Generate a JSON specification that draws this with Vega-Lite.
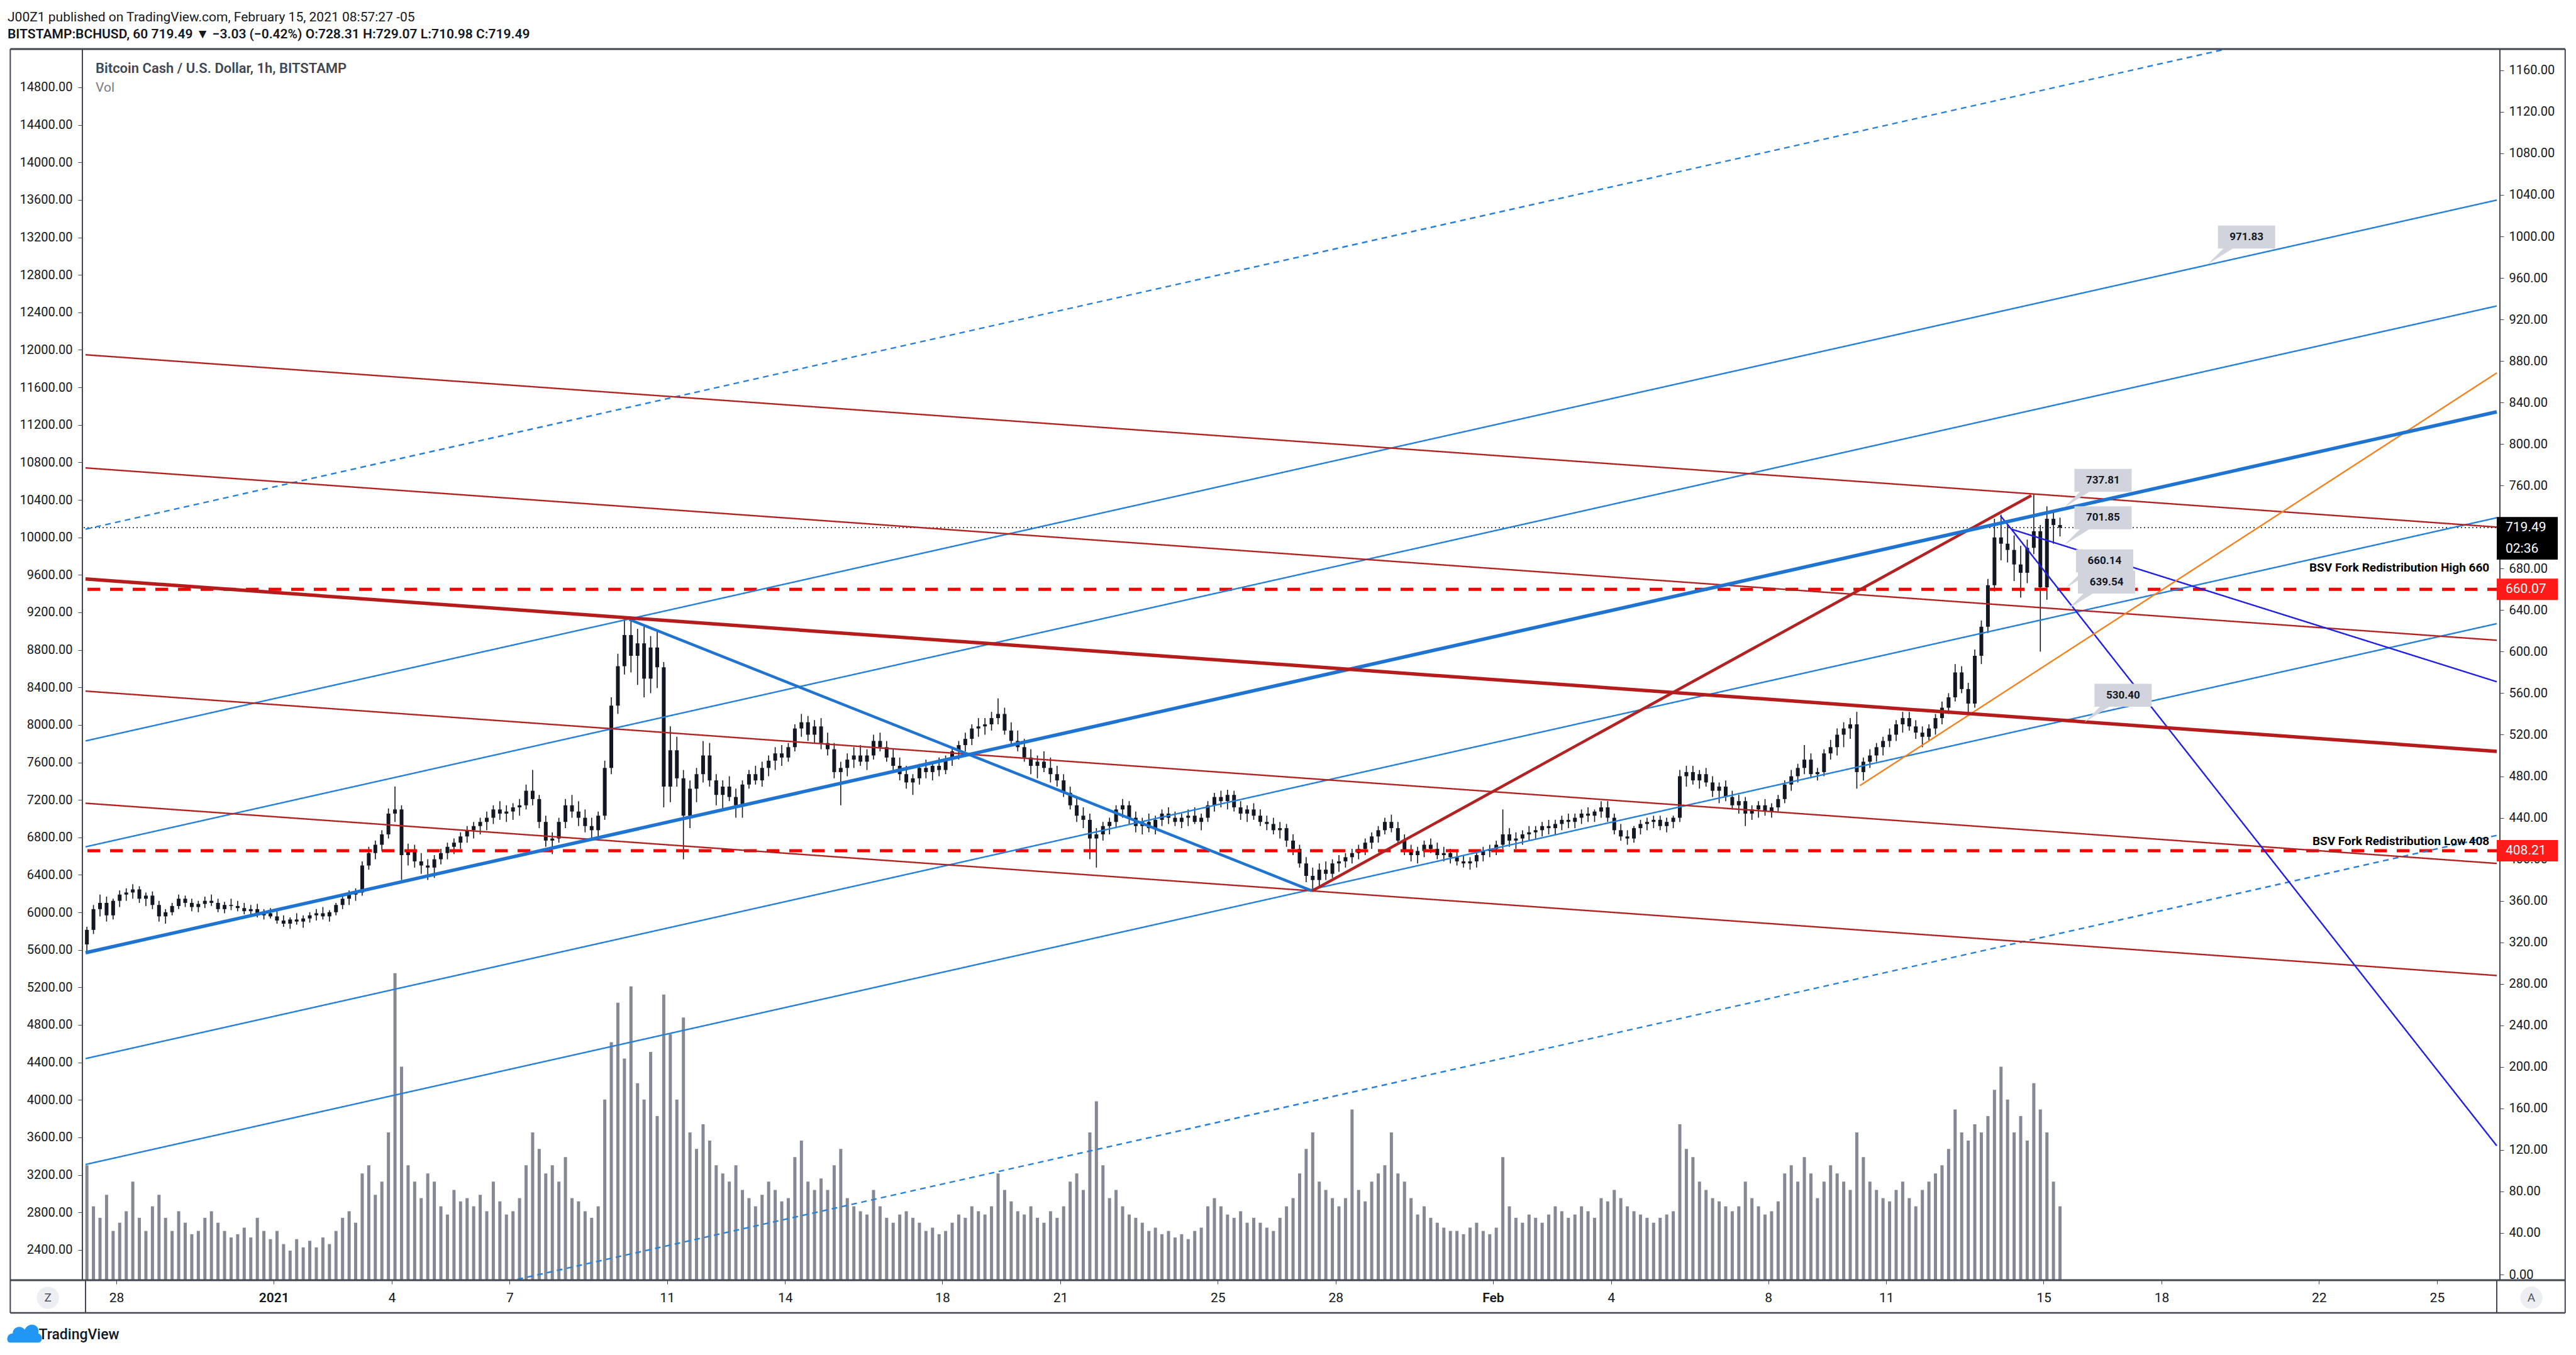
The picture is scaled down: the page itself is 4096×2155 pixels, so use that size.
{
  "$schema": "https://vega.github.io/schema/vega-lite/v6.json",
  "width": 3844,
  "height": 1958,
  "autosize": "none",
  "padding": {"left": 131, "top": 78, "right": 121, "bottom": 119},
  "background": "#ffffff",
  "title": {
    "text": "J00Z1 published on TradingView.com, February 15, 2021 08:57:27 -05",
    "subtitle": "BITSTAMP:BCHUSD, 60  719.49 ▼ −3.03 (−0.42%)  O:728.31  H:729.07  L:710.98  C:719.49",
    "anchor": "start",
    "frame": "group",
    "dx": -119,
    "offset": 12,
    "font": "Roboto",
    "fontSize": 21,
    "fontWeight": "normal",
    "color": "#131722",
    "subtitleFont": "Roboto",
    "subtitleFontSize": 21,
    "subtitleFontWeight": 600,
    "subtitleColor": "#131722",
    "subtitlePadding": 6
  },
  "datasets": {
    "leftscale": [{"lv": 2400}, {"lv": 14800}],
    "candles": [
      {"t":"2020-12-27T06:00Z","o":318,"h":335,"l":312,"c":332,"v":700},
      {"t":"2020-12-27T10:00Z","o":332,"h":356,"l":328,"c":352,"v":450},
      {"t":"2020-12-27T14:00Z","o":352,"h":366,"l":345,"c":358,"v":380},
      {"t":"2020-12-27T18:00Z","o":358,"h":364,"l":340,"c":346,"v":520},
      {"t":"2020-12-27T22:00Z","o":346,"h":362,"l":342,"c":360,"v":300},
      {"t":"2020-12-28T02:00Z","o":360,"h":370,"l":354,"c":366,"v":350},
      {"t":"2020-12-28T06:00Z","o":366,"h":372,"l":360,"c":368,"v":420},
      {"t":"2020-12-28T10:00Z","o":368,"h":376,"l":362,"c":371,"v":600},
      {"t":"2020-12-28T14:00Z","o":371,"h":374,"l":358,"c":362,"v":380},
      {"t":"2020-12-28T18:00Z","o":362,"h":368,"l":355,"c":365,"v":300},
      {"t":"2020-12-28T22:00Z","o":365,"h":369,"l":352,"c":356,"v":450},
      {"t":"2020-12-29T02:00Z","o":356,"h":360,"l":340,"c":345,"v":520},
      {"t":"2020-12-29T06:00Z","o":345,"h":352,"l":338,"c":349,"v":380},
      {"t":"2020-12-29T10:00Z","o":349,"h":358,"l":346,"c":355,"v":300},
      {"t":"2020-12-29T14:00Z","o":355,"h":366,"l":352,"c":362,"v":420},
      {"t":"2020-12-29T18:00Z","o":362,"h":365,"l":354,"c":358,"v":350},
      {"t":"2020-12-29T22:00Z","o":358,"h":362,"l":350,"c":354,"v":280},
      {"t":"2020-12-30T02:00Z","o":354,"h":360,"l":349,"c":357,"v":300},
      {"t":"2020-12-30T06:00Z","o":357,"h":364,"l":353,"c":360,"v":380},
      {"t":"2020-12-30T10:00Z","o":360,"h":366,"l":355,"c":358,"v":420},
      {"t":"2020-12-30T14:00Z","o":358,"h":362,"l":349,"c":352,"v":350},
      {"t":"2020-12-30T18:00Z","o":352,"h":359,"l":348,"c":356,"v":300},
      {"t":"2020-12-30T22:00Z","o":356,"h":362,"l":351,"c":355,"v":260},
      {"t":"2020-12-31T02:00Z","o":355,"h":360,"l":350,"c":353,"v":280},
      {"t":"2020-12-31T06:00Z","o":353,"h":358,"l":347,"c":350,"v":320},
      {"t":"2020-12-31T10:00Z","o":350,"h":356,"l":346,"c":352,"v":260},
      {"t":"2020-12-31T14:00Z","o":352,"h":357,"l":344,"c":346,"v":380},
      {"t":"2020-12-31T18:00Z","o":346,"h":352,"l":342,"c":348,"v":300},
      {"t":"2020-12-31T22:00Z","o":348,"h":353,"l":343,"c":345,"v":250},
      {"t":"2021-01-01T02:00Z","o":345,"h":350,"l":338,"c":341,"v":300},
      {"t":"2021-01-01T06:00Z","o":341,"h":346,"l":335,"c":338,"v":220},
      {"t":"2021-01-01T10:00Z","o":338,"h":344,"l":333,"c":342,"v":180},
      {"t":"2021-01-01T14:00Z","o":342,"h":348,"l":337,"c":340,"v":250},
      {"t":"2021-01-01T18:00Z","o":340,"h":346,"l":334,"c":343,"v":200},
      {"t":"2021-01-01T22:00Z","o":343,"h":349,"l":339,"c":346,"v":240},
      {"t":"2021-01-02T02:00Z","o":346,"h":352,"l":341,"c":348,"v":200},
      {"t":"2021-01-02T06:00Z","o":348,"h":354,"l":342,"c":345,"v":260},
      {"t":"2021-01-02T10:00Z","o":345,"h":351,"l":340,"c":349,"v":220},
      {"t":"2021-01-02T14:00Z","o":349,"h":358,"l":346,"c":356,"v":300},
      {"t":"2021-01-02T18:00Z","o":356,"h":366,"l":352,"c":362,"v":380},
      {"t":"2021-01-02T22:00Z","o":362,"h":370,"l":356,"c":366,"v":420},
      {"t":"2021-01-03T02:00Z","o":366,"h":372,"l":360,"c":368,"v":350},
      {"t":"2021-01-03T06:00Z","o":368,"h":398,"l":365,"c":394,"v":650},
      {"t":"2021-01-03T10:00Z","o":394,"h":412,"l":390,"c":406,"v":700},
      {"t":"2021-01-03T14:00Z","o":406,"h":418,"l":400,"c":414,"v":520},
      {"t":"2021-01-03T18:00Z","o":414,"h":428,"l":408,"c":424,"v":600},
      {"t":"2021-01-03T22:00Z","o":424,"h":449,"l":420,"c":444,"v":900},
      {"t":"2021-01-04T02:00Z","o":444,"h":470,"l":436,"c":448,"v":1870},
      {"t":"2021-01-04T06:00Z","o":448,"h":452,"l":380,"c":404,"v":1300},
      {"t":"2021-01-04T10:00Z","o":404,"h":415,"l":394,"c":408,"v":700},
      {"t":"2021-01-04T14:00Z","o":408,"h":414,"l":392,"c":398,"v":600},
      {"t":"2021-01-04T18:00Z","o":398,"h":406,"l":386,"c":394,"v":500},
      {"t":"2021-01-04T22:00Z","o":394,"h":400,"l":380,"c":392,"v":650},
      {"t":"2021-01-05T02:00Z","o":392,"h":404,"l":382,"c":400,"v":600},
      {"t":"2021-01-05T06:00Z","o":400,"h":410,"l":395,"c":406,"v":450},
      {"t":"2021-01-05T10:00Z","o":406,"h":416,"l":400,"c":412,"v":400},
      {"t":"2021-01-05T14:00Z","o":412,"h":420,"l":405,"c":416,"v":550},
      {"t":"2021-01-05T18:00Z","o":416,"h":426,"l":410,"c":422,"v":480},
      {"t":"2021-01-05T22:00Z","o":422,"h":432,"l":416,"c":428,"v":500},
      {"t":"2021-01-06T02:00Z","o":428,"h":436,"l":420,"c":432,"v":450},
      {"t":"2021-01-06T06:00Z","o":432,"h":440,"l":424,"c":436,"v":520},
      {"t":"2021-01-06T10:00Z","o":436,"h":446,"l":428,"c":440,"v":420},
      {"t":"2021-01-06T14:00Z","o":440,"h":452,"l":434,"c":448,"v":600},
      {"t":"2021-01-06T18:00Z","o":448,"h":456,"l":438,"c":444,"v":480},
      {"t":"2021-01-06T22:00Z","o":444,"h":452,"l":436,"c":446,"v":400},
      {"t":"2021-01-07T02:00Z","o":446,"h":454,"l":438,"c":450,"v":420},
      {"t":"2021-01-07T06:00Z","o":450,"h":458,"l":442,"c":452,"v":500},
      {"t":"2021-01-07T10:00Z","o":452,"h":472,"l":448,"c":466,"v":700},
      {"t":"2021-01-07T14:00Z","o":466,"h":486,"l":452,"c":458,"v":900},
      {"t":"2021-01-07T18:00Z","o":458,"h":462,"l":430,"c":436,"v":800},
      {"t":"2021-01-07T22:00Z","o":436,"h":442,"l":412,"c":418,"v":650},
      {"t":"2021-01-08T02:00Z","o":418,"h":426,"l":405,"c":420,"v":700},
      {"t":"2021-01-08T06:00Z","o":420,"h":440,"l":416,"c":436,"v":600},
      {"t":"2021-01-08T10:00Z","o":436,"h":458,"l":430,"c":452,"v":750},
      {"t":"2021-01-08T14:00Z","o":452,"h":462,"l":440,"c":446,"v":500},
      {"t":"2021-01-08T18:00Z","o":446,"h":456,"l":432,"c":440,"v":480},
      {"t":"2021-01-08T22:00Z","o":440,"h":448,"l":426,"c":432,"v":420},
      {"t":"2021-01-09T02:00Z","o":432,"h":440,"l":420,"c":428,"v":380},
      {"t":"2021-01-09T06:00Z","o":428,"h":446,"l":422,"c":442,"v":450},
      {"t":"2021-01-09T10:00Z","o":442,"h":495,"l":438,"c":488,"v":1100},
      {"t":"2021-01-09T14:00Z","o":488,"h":556,"l":482,"c":548,"v":1450},
      {"t":"2021-01-09T18:00Z","o":548,"h":598,"l":540,"c":586,"v":1690},
      {"t":"2021-01-09T22:00Z","o":586,"h":632,"l":578,"c":616,"v":1350},
      {"t":"2021-01-10T02:00Z","o":616,"h":630,"l":580,"c":596,"v":1790},
      {"t":"2021-01-10T06:00Z","o":596,"h":622,"l":568,"c":608,"v":1200},
      {"t":"2021-01-10T10:00Z","o":608,"h":624,"l":556,"c":574,"v":1100},
      {"t":"2021-01-10T14:00Z","o":574,"h":615,"l":560,"c":604,"v":1390},
      {"t":"2021-01-10T18:00Z","o":604,"h":620,"l":565,"c":585,"v":1000},
      {"t":"2021-01-10T22:00Z","o":585,"h":590,"l":450,"c":470,"v":1740},
      {"t":"2021-01-11T02:00Z","o":470,"h":528,"l":455,"c":505,"v":1500},
      {"t":"2021-01-11T06:00Z","o":505,"h":518,"l":470,"c":478,"v":1100},
      {"t":"2021-01-11T10:00Z","o":478,"h":486,"l":400,"c":442,"v":1600},
      {"t":"2021-01-11T14:00Z","o":442,"h":476,"l":430,"c":468,"v":900},
      {"t":"2021-01-11T18:00Z","o":468,"h":488,"l":455,"c":482,"v":800},
      {"t":"2021-01-11T22:00Z","o":482,"h":514,"l":474,"c":500,"v":950},
      {"t":"2021-01-12T02:00Z","o":500,"h":512,"l":470,"c":476,"v":850},
      {"t":"2021-01-12T06:00Z","o":476,"h":482,"l":452,"c":462,"v":700},
      {"t":"2021-01-12T10:00Z","o":462,"h":476,"l":448,"c":470,"v":650},
      {"t":"2021-01-12T14:00Z","o":470,"h":480,"l":456,"c":460,"v":600},
      {"t":"2021-01-12T18:00Z","o":460,"h":468,"l":440,"c":452,"v":700},
      {"t":"2021-01-12T22:00Z","o":452,"h":476,"l":440,"c":472,"v":550},
      {"t":"2021-01-13T02:00Z","o":472,"h":486,"l":468,"c":482,"v":500},
      {"t":"2021-01-13T06:00Z","o":482,"h":490,"l":472,"c":476,"v":450},
      {"t":"2021-01-13T10:00Z","o":476,"h":494,"l":470,"c":488,"v":520},
      {"t":"2021-01-13T14:00Z","o":488,"h":500,"l":480,"c":495,"v":600},
      {"t":"2021-01-13T18:00Z","o":495,"h":508,"l":486,"c":502,"v":550},
      {"t":"2021-01-13T22:00Z","o":502,"h":510,"l":490,"c":498,"v":480},
      {"t":"2021-01-14T02:00Z","o":498,"h":512,"l":494,"c":508,"v":500},
      {"t":"2021-01-14T06:00Z","o":508,"h":530,"l":504,"c":526,"v":750},
      {"t":"2021-01-14T10:00Z","o":526,"h":540,"l":518,"c":532,"v":850},
      {"t":"2021-01-14T14:00Z","o":532,"h":538,"l":514,"c":520,"v":600},
      {"t":"2021-01-14T18:00Z","o":520,"h":534,"l":512,"c":528,"v":550},
      {"t":"2021-01-14T22:00Z","o":528,"h":536,"l":506,"c":512,"v":620},
      {"t":"2021-01-15T02:00Z","o":512,"h":522,"l":500,"c":506,"v":550},
      {"t":"2021-01-15T06:00Z","o":506,"h":512,"l":478,"c":484,"v":700},
      {"t":"2021-01-15T10:00Z","o":484,"h":494,"l":452,"c":488,"v":800},
      {"t":"2021-01-15T14:00Z","o":488,"h":502,"l":480,"c":496,"v":500},
      {"t":"2021-01-15T18:00Z","o":496,"h":508,"l":488,"c":500,"v":450},
      {"t":"2021-01-15T22:00Z","o":500,"h":510,"l":490,"c":494,"v":420},
      {"t":"2021-01-16T02:00Z","o":494,"h":506,"l":486,"c":500,"v":400},
      {"t":"2021-01-16T06:00Z","o":500,"h":520,"l":496,"c":514,"v":550},
      {"t":"2021-01-16T10:00Z","o":514,"h":522,"l":504,"c":508,"v":450},
      {"t":"2021-01-16T14:00Z","o":508,"h":514,"l":494,"c":498,"v":380},
      {"t":"2021-01-16T18:00Z","o":498,"h":506,"l":486,"c":490,"v":350},
      {"t":"2021-01-16T22:00Z","o":490,"h":498,"l":476,"c":482,"v":400},
      {"t":"2021-01-17T02:00Z","o":482,"h":490,"l":468,"c":474,"v":420},
      {"t":"2021-01-17T06:00Z","o":474,"h":482,"l":462,"c":478,"v":380},
      {"t":"2021-01-17T10:00Z","o":478,"h":492,"l":472,"c":488,"v":350},
      {"t":"2021-01-17T14:00Z","o":488,"h":496,"l":478,"c":484,"v":300},
      {"t":"2021-01-17T18:00Z","o":484,"h":494,"l":476,"c":490,"v":320},
      {"t":"2021-01-17T22:00Z","o":490,"h":498,"l":480,"c":486,"v":280},
      {"t":"2021-01-18T02:00Z","o":486,"h":500,"l":482,"c":496,"v":300},
      {"t":"2021-01-18T06:00Z","o":496,"h":508,"l":490,"c":504,"v":350},
      {"t":"2021-01-18T10:00Z","o":504,"h":514,"l":496,"c":510,"v":400},
      {"t":"2021-01-18T14:00Z","o":510,"h":522,"l":504,"c":516,"v":380},
      {"t":"2021-01-18T18:00Z","o":516,"h":530,"l":510,"c":526,"v":450},
      {"t":"2021-01-18T22:00Z","o":526,"h":536,"l":518,"c":528,"v":420},
      {"t":"2021-01-19T02:00Z","o":528,"h":536,"l":520,"c":530,"v":400},
      {"t":"2021-01-19T06:00Z","o":530,"h":542,"l":524,"c":536,"v":450},
      {"t":"2021-01-19T10:00Z","o":536,"h":555,"l":530,"c":540,"v":650},
      {"t":"2021-01-19T14:00Z","o":540,"h":546,"l":520,"c":524,"v":550},
      {"t":"2021-01-19T18:00Z","o":524,"h":532,"l":510,"c":514,"v":480},
      {"t":"2021-01-19T22:00Z","o":514,"h":524,"l":504,"c":508,"v":420},
      {"t":"2021-01-20T02:00Z","o":508,"h":516,"l":494,"c":498,"v":400},
      {"t":"2021-01-20T06:00Z","o":498,"h":506,"l":482,"c":490,"v":450},
      {"t":"2021-01-20T10:00Z","o":490,"h":500,"l":478,"c":494,"v":380},
      {"t":"2021-01-20T14:00Z","o":494,"h":504,"l":484,"c":488,"v":350},
      {"t":"2021-01-20T18:00Z","o":488,"h":498,"l":474,"c":482,"v":420},
      {"t":"2021-01-20T22:00Z","o":482,"h":490,"l":470,"c":476,"v":380},
      {"t":"2021-01-21T02:00Z","o":476,"h":482,"l":460,"c":464,"v":450},
      {"t":"2021-01-21T06:00Z","o":464,"h":470,"l":448,"c":452,"v":600},
      {"t":"2021-01-21T10:00Z","o":452,"h":460,"l":436,"c":442,"v":650},
      {"t":"2021-01-21T14:00Z","o":442,"h":450,"l":430,"c":438,"v":550},
      {"t":"2021-01-21T18:00Z","o":438,"h":444,"l":400,"c":420,"v":900},
      {"t":"2021-01-21T22:00Z","o":420,"h":430,"l":392,"c":424,"v":1090},
      {"t":"2021-01-22T02:00Z","o":424,"h":436,"l":418,"c":432,"v":700},
      {"t":"2021-01-22T06:00Z","o":432,"h":440,"l":424,"c":436,"v":500},
      {"t":"2021-01-22T10:00Z","o":436,"h":452,"l":430,"c":448,"v":550},
      {"t":"2021-01-22T14:00Z","o":448,"h":458,"l":440,"c":452,"v":450},
      {"t":"2021-01-22T18:00Z","o":452,"h":456,"l":434,"c":440,"v":400},
      {"t":"2021-01-22T22:00Z","o":440,"h":446,"l":426,"c":432,"v":380},
      {"t":"2021-01-23T02:00Z","o":432,"h":440,"l":424,"c":436,"v":350},
      {"t":"2021-01-23T06:00Z","o":436,"h":444,"l":426,"c":430,"v":300},
      {"t":"2021-01-23T10:00Z","o":430,"h":442,"l":424,"c":438,"v":320},
      {"t":"2021-01-23T14:00Z","o":438,"h":448,"l":432,"c":444,"v":280},
      {"t":"2021-01-23T18:00Z","o":444,"h":450,"l":434,"c":440,"v":300},
      {"t":"2021-01-23T22:00Z","o":440,"h":446,"l":432,"c":436,"v":260},
      {"t":"2021-01-24T02:00Z","o":436,"h":444,"l":430,"c":440,"v":280},
      {"t":"2021-01-24T06:00Z","o":440,"h":448,"l":432,"c":442,"v":250},
      {"t":"2021-01-24T10:00Z","o":442,"h":450,"l":434,"c":436,"v":300},
      {"t":"2021-01-24T14:00Z","o":436,"h":444,"l":428,"c":440,"v":320},
      {"t":"2021-01-24T18:00Z","o":440,"h":456,"l":436,"c":452,"v":450},
      {"t":"2021-01-24T22:00Z","o":452,"h":464,"l":446,"c":460,"v":500},
      {"t":"2021-01-25T02:00Z","o":460,"h":466,"l":450,"c":456,"v":450},
      {"t":"2021-01-25T06:00Z","o":456,"h":467,"l":448,"c":462,"v":400},
      {"t":"2021-01-25T10:00Z","o":462,"h":466,"l":446,"c":450,"v":380},
      {"t":"2021-01-25T14:00Z","o":450,"h":456,"l":438,"c":444,"v":420},
      {"t":"2021-01-25T18:00Z","o":444,"h":452,"l":436,"c":448,"v":350},
      {"t":"2021-01-25T22:00Z","o":448,"h":454,"l":438,"c":442,"v":380},
      {"t":"2021-01-26T02:00Z","o":442,"h":448,"l":432,"c":436,"v":350},
      {"t":"2021-01-26T06:00Z","o":436,"h":442,"l":428,"c":434,"v":320},
      {"t":"2021-01-26T10:00Z","o":434,"h":440,"l":424,"c":428,"v":300},
      {"t":"2021-01-26T14:00Z","o":428,"h":436,"l":420,"c":430,"v":380},
      {"t":"2021-01-26T18:00Z","o":430,"h":434,"l":412,"c":418,"v":450},
      {"t":"2021-01-26T22:00Z","o":418,"h":424,"l":404,"c":410,"v":500},
      {"t":"2021-01-27T02:00Z","o":410,"h":414,"l":392,"c":396,"v":650},
      {"t":"2021-01-27T06:00Z","o":396,"h":402,"l":378,"c":384,"v":800},
      {"t":"2021-01-27T10:00Z","o":384,"h":392,"l":370,"c":380,"v":900},
      {"t":"2021-01-27T14:00Z","o":380,"h":396,"l":374,"c":390,"v":600},
      {"t":"2021-01-27T18:00Z","o":390,"h":398,"l":380,"c":386,"v":550},
      {"t":"2021-01-27T22:00Z","o":386,"h":400,"l":382,"c":396,"v":500},
      {"t":"2021-01-28T02:00Z","o":396,"h":404,"l":388,"c":398,"v":450},
      {"t":"2021-01-28T06:00Z","o":398,"h":406,"l":392,"c":402,"v":500},
      {"t":"2021-01-28T10:00Z","o":402,"h":410,"l":396,"c":406,"v":1040},
      {"t":"2021-01-28T14:00Z","o":406,"h":414,"l":400,"c":410,"v":550},
      {"t":"2021-01-28T18:00Z","o":410,"h":420,"l":404,"c":416,"v":480},
      {"t":"2021-01-28T22:00Z","o":416,"h":426,"l":410,"c":422,"v":600},
      {"t":"2021-01-29T02:00Z","o":422,"h":432,"l":416,"c":428,"v":650},
      {"t":"2021-01-29T06:00Z","o":428,"h":440,"l":424,"c":436,"v":700},
      {"t":"2021-01-29T10:00Z","o":436,"h":443,"l":426,"c":430,"v":900},
      {"t":"2021-01-29T14:00Z","o":430,"h":436,"l":414,"c":418,"v":650},
      {"t":"2021-01-29T18:00Z","o":418,"h":424,"l":404,"c":408,"v":600},
      {"t":"2021-01-29T22:00Z","o":408,"h":414,"l":398,"c":404,"v":500},
      {"t":"2021-01-30T02:00Z","o":404,"h":412,"l":396,"c":408,"v":400},
      {"t":"2021-01-30T06:00Z","o":408,"h":418,"l":402,"c":414,"v":450},
      {"t":"2021-01-30T10:00Z","o":414,"h":420,"l":406,"c":410,"v":380},
      {"t":"2021-01-30T14:00Z","o":410,"h":416,"l":400,"c":404,"v":350},
      {"t":"2021-01-30T18:00Z","o":404,"h":412,"l":398,"c":406,"v":320},
      {"t":"2021-01-30T22:00Z","o":406,"h":410,"l":396,"c":402,"v":300},
      {"t":"2021-01-31T02:00Z","o":402,"h":408,"l":394,"c":398,"v":300},
      {"t":"2021-01-31T06:00Z","o":398,"h":404,"l":392,"c":396,"v":280},
      {"t":"2021-01-31T10:00Z","o":396,"h":402,"l":390,"c":398,"v":320},
      {"t":"2021-01-31T14:00Z","o":398,"h":406,"l":392,"c":404,"v":350},
      {"t":"2021-01-31T18:00Z","o":404,"h":412,"l":398,"c":408,"v":300},
      {"t":"2021-01-31T22:00Z","o":408,"h":414,"l":402,"c":410,"v":280},
      {"t":"2021-02-01T02:00Z","o":410,"h":418,"l":404,"c":414,"v":320},
      {"t":"2021-02-01T06:00Z","o":414,"h":448,"l":410,"c":424,"v":750},
      {"t":"2021-02-01T10:00Z","o":424,"h":430,"l":412,"c":418,"v":450},
      {"t":"2021-02-01T14:00Z","o":418,"h":426,"l":410,"c":420,"v":380},
      {"t":"2021-02-01T18:00Z","o":420,"h":428,"l":414,"c":424,"v":350},
      {"t":"2021-02-01T22:00Z","o":424,"h":432,"l":418,"c":426,"v":400},
      {"t":"2021-02-02T02:00Z","o":426,"h":432,"l":420,"c":428,"v":380},
      {"t":"2021-02-02T06:00Z","o":428,"h":436,"l":422,"c":432,"v":350},
      {"t":"2021-02-02T10:00Z","o":432,"h":438,"l":424,"c":430,"v":400},
      {"t":"2021-02-02T14:00Z","o":430,"h":438,"l":424,"c":434,"v":450},
      {"t":"2021-02-02T18:00Z","o":434,"h":442,"l":428,"c":438,"v":420},
      {"t":"2021-02-02T22:00Z","o":438,"h":444,"l":430,"c":436,"v":380},
      {"t":"2021-02-03T02:00Z","o":436,"h":444,"l":430,"c":440,"v":400},
      {"t":"2021-02-03T06:00Z","o":440,"h":448,"l":434,"c":444,"v":450},
      {"t":"2021-02-03T10:00Z","o":444,"h":450,"l":436,"c":442,"v":420},
      {"t":"2021-02-03T14:00Z","o":442,"h":448,"l":436,"c":446,"v":380},
      {"t":"2021-02-03T18:00Z","o":446,"h":456,"l":440,"c":450,"v":500},
      {"t":"2021-02-03T22:00Z","o":450,"h":456,"l":436,"c":440,"v":480},
      {"t":"2021-02-04T02:00Z","o":440,"h":444,"l":424,"c":428,"v":550},
      {"t":"2021-02-04T06:00Z","o":428,"h":434,"l":418,"c":422,"v":500},
      {"t":"2021-02-04T10:00Z","o":422,"h":428,"l":414,"c":420,"v":450},
      {"t":"2021-02-04T14:00Z","o":420,"h":432,"l":416,"c":430,"v":420},
      {"t":"2021-02-04T18:00Z","o":430,"h":438,"l":424,"c":434,"v":400},
      {"t":"2021-02-04T22:00Z","o":434,"h":440,"l":428,"c":436,"v":380},
      {"t":"2021-02-05T02:00Z","o":436,"h":442,"l":430,"c":438,"v":350},
      {"t":"2021-02-05T06:00Z","o":438,"h":442,"l":428,"c":432,"v":380},
      {"t":"2021-02-05T10:00Z","o":432,"h":440,"l":426,"c":436,"v":400},
      {"t":"2021-02-05T14:00Z","o":436,"h":442,"l":430,"c":440,"v":420},
      {"t":"2021-02-05T18:00Z","o":440,"h":486,"l":436,"c":480,"v":950},
      {"t":"2021-02-05T22:00Z","o":480,"h":490,"l":470,"c":484,"v":800},
      {"t":"2021-02-06T02:00Z","o":484,"h":490,"l":472,"c":476,"v":750},
      {"t":"2021-02-06T06:00Z","o":476,"h":486,"l":468,"c":482,"v":600},
      {"t":"2021-02-06T10:00Z","o":482,"h":488,"l":470,"c":474,"v":550},
      {"t":"2021-02-06T14:00Z","o":474,"h":480,"l":460,"c":466,"v":500},
      {"t":"2021-02-06T18:00Z","o":466,"h":474,"l":454,"c":470,"v":480},
      {"t":"2021-02-06T22:00Z","o":470,"h":476,"l":456,"c":460,"v":450},
      {"t":"2021-02-07T02:00Z","o":460,"h":466,"l":448,"c":452,"v":420},
      {"t":"2021-02-07T06:00Z","o":452,"h":462,"l":444,"c":456,"v":450},
      {"t":"2021-02-07T10:00Z","o":456,"h":460,"l":432,"c":444,"v":600},
      {"t":"2021-02-07T14:00Z","o":444,"h":452,"l":438,"c":448,"v":500},
      {"t":"2021-02-07T18:00Z","o":448,"h":456,"l":440,"c":452,"v":450},
      {"t":"2021-02-07T22:00Z","o":452,"h":458,"l":442,"c":446,"v":400},
      {"t":"2021-02-08T02:00Z","o":446,"h":454,"l":440,"c":450,"v":420},
      {"t":"2021-02-08T06:00Z","o":450,"h":462,"l":446,"c":458,"v":480},
      {"t":"2021-02-08T10:00Z","o":458,"h":476,"l":454,"c":472,"v":650},
      {"t":"2021-02-08T14:00Z","o":472,"h":486,"l":466,"c":480,"v":700},
      {"t":"2021-02-08T18:00Z","o":480,"h":492,"l":474,"c":488,"v":600},
      {"t":"2021-02-08T22:00Z","o":488,"h":510,"l":482,"c":496,"v":750},
      {"t":"2021-02-09T02:00Z","o":496,"h":502,"l":478,"c":482,"v":650},
      {"t":"2021-02-09T06:00Z","o":482,"h":488,"l":476,"c":484,"v":500},
      {"t":"2021-02-09T10:00Z","o":484,"h":506,"l":480,"c":502,"v":600},
      {"t":"2021-02-09T14:00Z","o":502,"h":515,"l":496,"c":508,"v":700},
      {"t":"2021-02-09T18:00Z","o":508,"h":526,"l":500,"c":520,"v":650},
      {"t":"2021-02-09T22:00Z","o":520,"h":532,"l":508,"c":526,"v":600},
      {"t":"2021-02-10T02:00Z","o":526,"h":536,"l":516,"c":530,"v":550},
      {"t":"2021-02-10T06:00Z","o":530,"h":542,"l":468,"c":484,"v":900},
      {"t":"2021-02-10T10:00Z","o":484,"h":498,"l":476,"c":494,"v":750},
      {"t":"2021-02-10T14:00Z","o":494,"h":506,"l":488,"c":500,"v":600},
      {"t":"2021-02-10T18:00Z","o":500,"h":512,"l":494,"c":508,"v":550},
      {"t":"2021-02-10T22:00Z","o":508,"h":518,"l":500,"c":514,"v":500},
      {"t":"2021-02-11T02:00Z","o":514,"h":526,"l":508,"c":520,"v":480},
      {"t":"2021-02-11T06:00Z","o":520,"h":534,"l":514,"c":530,"v":550},
      {"t":"2021-02-11T10:00Z","o":530,"h":542,"l":522,"c":536,"v":600},
      {"t":"2021-02-11T14:00Z","o":536,"h":542,"l":524,"c":528,"v":500},
      {"t":"2021-02-11T18:00Z","o":528,"h":534,"l":516,"c":522,"v":450},
      {"t":"2021-02-11T22:00Z","o":522,"h":528,"l":508,"c":518,"v":550},
      {"t":"2021-02-12T02:00Z","o":518,"h":530,"l":514,"c":526,"v":600},
      {"t":"2021-02-12T06:00Z","o":526,"h":540,"l":520,"c":536,"v":650},
      {"t":"2021-02-12T10:00Z","o":536,"h":552,"l":530,"c":546,"v":700},
      {"t":"2021-02-12T14:00Z","o":546,"h":560,"l":540,"c":556,"v":800},
      {"t":"2021-02-12T18:00Z","o":556,"h":588,"l":552,"c":580,"v":1040},
      {"t":"2021-02-12T22:00Z","o":580,"h":586,"l":560,"c":564,"v":900},
      {"t":"2021-02-13T02:00Z","o":564,"h":570,"l":540,"c":550,"v":850},
      {"t":"2021-02-13T06:00Z","o":550,"h":602,"l":546,"c":596,"v":950},
      {"t":"2021-02-13T10:00Z","o":596,"h":630,"l":588,"c":624,"v":900},
      {"t":"2021-02-13T14:00Z","o":624,"h":670,"l":618,"c":664,"v":1000},
      {"t":"2021-02-13T18:00Z","o":664,"h":728,"l":658,"c":710,"v":1160},
      {"t":"2021-02-13T22:00Z","o":710,"h":732,"l":688,"c":704,"v":1300},
      {"t":"2021-02-14T02:00Z","o":704,"h":722,"l":686,"c":698,"v":1100},
      {"t":"2021-02-14T06:00Z","o":698,"h":712,"l":668,"c":684,"v":900},
      {"t":"2021-02-14T10:00Z","o":684,"h":702,"l":652,"c":676,"v":1000},
      {"t":"2021-02-14T14:00Z","o":676,"h":708,"l":666,"c":700,"v":850},
      {"t":"2021-02-14T18:00Z","o":700,"h":751,"l":694,"c":716,"v":1200},
      {"t":"2021-02-14T22:00Z","o":716,"h":722,"l":600,"c":662,"v":1040},
      {"t":"2021-02-15T02:00Z","o":662,"h":740,"l":650,"c":728,"v":900},
      {"t":"2021-02-15T06:00Z","o":728,"h":734,"l":704,"c":722,"v":600},
      {"t":"2021-02-15T10:00Z","o":722,"h":729.07,"l":710.98,"c":719.49,"v":450}
    ],
    "lines": [
      {"line":"bd1","kind":"bluedash","t":"2020-12-27T05:10:00Z","p":718},
      {"line":"bd1","kind":"bluedash","t":"2021-02-26T12:30:00Z","p":1239},
      {"line":"b1","kind":"blue","t":"2020-12-27T05:10:00Z","p":514},
      {"line":"b1","kind":"blue","t":"2021-02-26T12:30:00Z","p":1035},
      {"line":"b2","kind":"blue","t":"2020-12-27T05:10:00Z","p":412},
      {"line":"b2","kind":"blue","t":"2021-02-26T12:30:00Z","p":933},
      {"line":"b0","kind":"bluethick","t":"2020-12-27T05:10:00Z","p":310},
      {"line":"b0","kind":"bluethick","t":"2021-02-26T12:30:00Z","p":831},
      {"line":"b3","kind":"blue","t":"2020-12-27T05:10:00Z","p":208},
      {"line":"b3","kind":"blue","t":"2021-02-26T12:30:00Z","p":729},
      {"line":"b4","kind":"blue","t":"2020-12-27T05:10:00Z","p":106},
      {"line":"b4","kind":"blue","t":"2021-02-26T12:30:00Z","p":627},
      {"line":"bd2","kind":"bluedash","t":"2020-12-27T05:10:00Z","p":-98},
      {"line":"bd2","kind":"bluedash","t":"2021-02-26T12:30:00Z","p":423},
      {"line":"r1","kind":"red","t":"2020-12-27T05:10:00Z","p":886},
      {"line":"r1","kind":"red","t":"2021-02-26T12:30:00Z","p":720},
      {"line":"r2","kind":"red","t":"2020-12-27T05:10:00Z","p":777},
      {"line":"r2","kind":"red","t":"2021-02-26T12:30:00Z","p":611},
      {"line":"r3","kind":"redthick","t":"2020-12-27T05:10:00Z","p":670},
      {"line":"r3","kind":"redthick","t":"2021-02-26T12:30:00Z","p":504},
      {"line":"r4","kind":"red","t":"2020-12-27T05:10:00Z","p":562},
      {"line":"r4","kind":"red","t":"2021-02-26T12:30:00Z","p":396},
      {"line":"r5","kind":"red","t":"2020-12-27T05:10:00Z","p":454},
      {"line":"r5","kind":"red","t":"2021-02-26T12:30:00Z","p":288},
      {"line":"bc","kind":"bluemid","t":"2021-01-10T01:00:00Z","p":631},
      {"line":"bc","kind":"bluemid","t":"2021-01-27T09:36:00Z","p":369.5},
      {"line":"dr","kind":"darkred","t":"2021-01-27T09:36:00Z","p":369.5},
      {"line":"dr","kind":"darkred","t":"2021-02-14T16:30:00Z","p":750.5},
      {"line":"pf0","kind":"pureblue","t":"2021-02-13T21:36:00Z","p":731},
      {"line":"pf0","kind":"pureblue","t":"2021-02-14T04:20:00Z","p":718},
      {"line":"pf1","kind":"pureblue","t":"2021-02-14T04:20:00Z","p":718},
      {"line":"pf1","kind":"pureblue","t":"2021-02-26T12:30:00Z","p":571},
      {"line":"pf2","kind":"pureblue","t":"2021-02-14T04:20:00Z","p":718},
      {"line":"pf2","kind":"pureblue","t":"2021-02-26T12:30:00Z","p":124},
      {"line":"or","kind":"orange","t":"2021-02-10T07:55:00Z","p":471},
      {"line":"or","kind":"orange","t":"2021-02-26T12:30:00Z","p":868.5}
    ],
    "levels": [
      {"p": 719.49, "kind": "last"},
      {"p": 660.07, "kind": "bsv"},
      {"p": 408.21, "kind": "bsv"}
    ],
    "callouts": [
      {"label": "737.81", "t": "2021-02-16T12:15:00Z", "p": 765},
      {"label": "701.85", "t": "2021-02-16T12:15:00Z", "p": 729},
      {"label": "660.14", "t": "2021-02-16T13:12:00Z", "p": 687.5},
      {"label": "639.54", "t": "2021-02-16T14:24:00Z", "p": 667},
      {"label": "530.40", "t": "2021-02-17T00:29:00Z", "p": 558},
      {"label": "971.83", "t": "2021-02-20T03:50:00Z", "p": 999.4}
    ],
    "notes": [
      {"label": "Bitcoin Cash / U.S. Dollar, 1h, BITSTAMP", "t": "2020-12-27T11:20:00Z", "p": 1162, "kind": "title"},
      {"label": "Vol", "t": "2020-12-27T11:20:00Z", "p": 1142.7, "kind": "vol"},
      {"label": "BSV Fork Redistribution High 660", "t": "2021-02-26T08:00:00Z", "p": 680.5, "kind": "bsv"},
      {"label": "BSV Fork Redistribution Low 408", "t": "2021-02-26T08:00:00Z", "p": 417.6, "kind": "bsv"}
    ],
    "tags": [
      {"label": "719.49", "p": 719.49, "kind": "last"},
      {"label": "02:36", "p": 699, "kind": "last"},
      {"label": "660.07", "p": 660.07, "kind": "bsv"},
      {"label": "408.21", "p": 408.21, "kind": "bsv"}
    ],
    "buttons": [
      {"label": "Z", "side": "left"},
      {"label": "A", "side": "right"}
    ]
  },
  "layer": [
    {
      "data": {"name": "leftscale"},
      "mark": {"type": "point", "opacity": 0},
      "encoding": {
        "y": {
          "field": "lv",
          "type": "quantitative",
          "scale": {"domain": [2077, 15209], "nice": false, "zero": false},
          "axis": {
            "orient": "left",
            "values": [2400, 2800, 3200, 3600, 4000, 4400, 4800, 5200, 5600, 6000, 6400, 6800, 7200, 7600, 8000, 8400, 8800, 9200, 9600, 10000, 10400, 10800, 11200, 11600, 12000, 12400, 12800, 13200, 13600, 14000, 14400, 14800],
            "format": ".2f",
            "tickSize": 7,
            "labelPadding": 9,
            "labelFontSize": 20,
            "labelColor": "#131722",
            "tickColor": "#434651",
            "domain": false,
            "grid": false,
            "title": null,
            "labelFlush": false,
            "labelOverlap": false
          }
        }
      }
    },
    {
      "data": {"name": "candles"},
      "mark": {"type": "bar", "size": 5, "color": "#868993"},
      "encoding": {
        "x": {"field": "t", "type": "temporal", "scale": {"type": "utc"}},
        "y": {"field": "v", "type": "quantitative", "scale": {"domain": [0, 7500], "nice": false}, "axis": null}
      }
    },
    {
      "data": {"name": "candles"},
      "mark": {"type": "rule", "color": "#131722", "strokeWidth": 1.6},
      "encoding": {
        "x": {
          "field": "t",
          "type": "temporal",
          "scale": {
            "type": "utc",
            "nice": false,
            "domain": [
              {"year": 2020, "month": 12, "date": 27, "hours": 5, "minutes": 10, "utc": true},
              {"year": 2021, "month": 2, "date": 26, "hours": 12, "minutes": 30, "utc": true}
            ]
          },
          "axis": {
            "orient": "bottom",
            "values": [
              {"year": 2020, "month": 12, "date": 28, "utc": true},
              {"year": 2021, "month": 1, "date": 1, "utc": true},
              {"year": 2021, "month": 1, "date": 4, "utc": true},
              {"year": 2021, "month": 1, "date": 7, "utc": true},
              {"year": 2021, "month": 1, "date": 11, "utc": true},
              {"year": 2021, "month": 1, "date": 14, "utc": true},
              {"year": 2021, "month": 1, "date": 18, "utc": true},
              {"year": 2021, "month": 1, "date": 21, "utc": true},
              {"year": 2021, "month": 1, "date": 25, "utc": true},
              {"year": 2021, "month": 1, "date": 28, "utc": true},
              {"year": 2021, "month": 2, "date": 1, "utc": true},
              {"year": 2021, "month": 2, "date": 4, "utc": true},
              {"year": 2021, "month": 2, "date": 8, "utc": true},
              {"year": 2021, "month": 2, "date": 11, "utc": true},
              {"year": 2021, "month": 2, "date": 15, "utc": true},
              {"year": 2021, "month": 2, "date": 18, "utc": true},
              {"year": 2021, "month": 2, "date": 22, "utc": true},
              {"year": 2021, "month": 2, "date": 25, "utc": true}
            ],
            "labelExpr": "utcdate(datum.value) === 1 ? (utcmonth(datum.value) === 0 ? utcFormat(datum.value, '%Y') : utcFormat(datum.value, '%b')) : utcFormat(datum.value, '%-d')",
            "labelFontWeight": {"condition": {"test": "utcdate(datum.value) === 1", "value": 600}, "value": "normal"},
            "tickSize": 6,
            "labelPadding": 11,
            "labelFontSize": 21,
            "labelColor": "#131722",
            "tickColor": "#434651",
            "domain": false,
            "grid": false,
            "labelFlush": false,
            "labelOverlap": false,
            "title": "TradingView",
            "titleAnchor": "start",
            "titleAlign": "left",
            "titleBaseline": "middle",
            "titleX": -70,
            "titleY": 86,
            "titleFontSize": 23,
            "titleFontWeight": 500,
            "titleColor": "#131722"
          }
        },
        "y": {
          "field": "l",
          "type": "quantitative",
          "scale": {"domain": [-5.45, 1180.5], "nice": false, "zero": false},
          "axis": {
            "orient": "right",
            "values": [0, 40, 80, 120, 160, 200, 240, 280, 320, 360, 400, 440, 480, 520, 560, 600, 640, 680, 720, 760, 800, 840, 880, 920, 960, 1000, 1040, 1080, 1120, 1160],
            "format": ".2f",
            "tickSize": 6,
            "labelPadding": 8,
            "labelFontSize": 20,
            "labelColor": "#131722",
            "tickColor": "#434651",
            "domain": false,
            "grid": false,
            "title": null,
            "labelFlush": false,
            "labelOverlap": false
          }
        },
        "y2": {"field": "h"}
      }
    },
    {
      "data": {"name": "candles"},
      "mark": {"type": "bar", "size": 6, "color": "#131722"},
      "encoding": {
        "x": {"field": "t", "type": "temporal", "scale": {"type": "utc"}},
        "y": {"field": "o", "type": "quantitative", "scale": {"domain": [-5.45, 1180.5], "nice": false, "zero": false}, "axis": null},
        "y2": {"field": "c"}
      }
    },
    {
      "data": {"name": "levels"},
      "transform": [{"filter": "datum.kind === 'last'"}],
      "mark": {"type": "rule", "color": "#131722", "strokeWidth": 1.5, "strokeDash": [2, 4]},
      "encoding": {"y": {"field": "p", "type": "quantitative", "scale": {"domain": [-5.45, 1180.5], "nice": false, "zero": false}, "axis": null}}
    },
    {
      "data": {"name": "levels"},
      "transform": [{"filter": "datum.kind === 'bsv'"}],
      "mark": {"type": "rule", "color": "#ff0000", "strokeWidth": 5, "strokeDash": [20, 16]},
      "encoding": {"y": {"field": "p", "type": "quantitative", "scale": {"domain": [-5.45, 1180.5], "nice": false, "zero": false}, "axis": null}}
    },
    {
      "data": {"name": "lines"},
      "transform": [{"filter": "datum.kind === 'red' || datum.kind === 'blue' || datum.kind === 'bluedash' || datum.kind === 'pureblue' || datum.kind === 'orange'"}],
      "mark": {"type": "line", "clip": true, "strokeWidth": 2.4},
      "encoding": {
        "x": {"field": "t", "type": "temporal", "scale": {"type": "utc"}},
        "y": {"field": "p", "type": "quantitative", "scale": {"domain": [-5.45, 1180.5], "nice": false, "zero": false}, "axis": null},
        "detail": {"field": "line", "type": "nominal"},
        "color": {
          "field": "kind",
          "type": "nominal",
          "scale": {
            "domain": ["red", "redthick", "darkred", "blue", "bluethick", "bluedash", "bluemid", "pureblue", "orange"],
            "range": ["#b22222", "#b71c1c", "#b22222", "#2680d9", "#1e74d0", "#2680d9", "#1e74d0", "#1f1fe6", "#f58220"]
          },
          "legend": null
        },
        "strokeDash": {
          "field": "kind",
          "type": "nominal",
          "scale": {
            "domain": ["red", "blue", "bluedash", "pureblue", "orange"],
            "range": [[1, 0], [1, 0], [9, 7], [1, 0], [1, 0]]
          },
          "legend": null
        }
      }
    },
    {
      "data": {"name": "lines"},
      "transform": [{"filter": "datum.kind === 'darkred' || datum.kind === 'bluemid'"}],
      "mark": {"type": "line", "clip": true, "strokeWidth": 4.5},
      "encoding": {
        "x": {"field": "t", "type": "temporal", "scale": {"type": "utc"}},
        "y": {"field": "p", "type": "quantitative", "scale": {"domain": [-5.45, 1180.5], "nice": false, "zero": false}, "axis": null},
        "detail": {"field": "line", "type": "nominal"},
        "color": {
          "field": "kind",
          "type": "nominal",
          "scale": {
            "domain": ["red", "redthick", "darkred", "blue", "bluethick", "bluedash", "bluemid", "pureblue", "orange"],
            "range": ["#b22222", "#b71c1c", "#b22222", "#2680d9", "#1e74d0", "#2680d9", "#1e74d0", "#1f1fe6", "#f58220"]
          },
          "legend": null
        }
      }
    },
    {
      "data": {"name": "lines"},
      "transform": [{"filter": "datum.kind === 'redthick' || datum.kind === 'bluethick'"}],
      "mark": {"type": "line", "clip": true, "strokeWidth": 5.5},
      "encoding": {
        "x": {"field": "t", "type": "temporal", "scale": {"type": "utc"}},
        "y": {"field": "p", "type": "quantitative", "scale": {"domain": [-5.45, 1180.5], "nice": false, "zero": false}, "axis": null},
        "detail": {"field": "line", "type": "nominal"},
        "color": {
          "field": "kind",
          "type": "nominal",
          "scale": {
            "domain": ["red", "redthick", "darkred", "blue", "bluethick", "bluedash", "bluemid", "pureblue", "orange"],
            "range": ["#b22222", "#b71c1c", "#b22222", "#2680d9", "#1e74d0", "#2680d9", "#1e74d0", "#1f1fe6", "#f58220"]
          },
          "legend": null
        }
      }
    },
    {
      "data": {"name": "callouts"},
      "mark": {
        "type": "point",
        "shape": "M-1,-0.4 L1,-0.4 L1,0.4 L-0.48,0.4 L-1.36,0.95 L-0.81,0.4 L-1,0.4 Z",
        "filled": true,
        "size": 8281,
        "color": "#d1d4dc",
        "opacity": 1
      },
      "encoding": {
        "x": {"field": "t", "type": "temporal", "scale": {"type": "utc"}},
        "y": {"field": "p", "type": "quantitative", "scale": {"domain": [-5.45, 1180.5], "nice": false, "zero": false}, "axis": null}
      }
    },
    {
      "data": {"name": "callouts"},
      "mark": {"type": "text", "fontSize": 17, "fontWeight": "bold", "color": "#131722", "align": "center", "baseline": "middle"},
      "encoding": {
        "x": {"field": "t", "type": "temporal", "scale": {"type": "utc"}},
        "y": {"field": "p", "type": "quantitative", "scale": {"domain": [-5.45, 1180.5], "nice": false, "zero": false}, "axis": null},
        "text": {"field": "label"}
      }
    },
    {
      "data": {"name": "notes"},
      "transform": [{"filter": "datum.kind === 'title'"}],
      "mark": {"type": "text", "fontSize": 22, "fontWeight": 600, "color": "#434651", "align": "left", "baseline": "middle"},
      "encoding": {
        "x": {"field": "t", "type": "temporal", "scale": {"type": "utc"}},
        "y": {"field": "p", "type": "quantitative", "scale": {"domain": [-5.45, 1180.5], "nice": false, "zero": false}, "axis": null},
        "text": {"field": "label"}
      }
    },
    {
      "data": {"name": "notes"},
      "transform": [{"filter": "datum.kind === 'vol'"}],
      "mark": {"type": "text", "fontSize": 21, "color": "#787b86", "align": "left", "baseline": "middle"},
      "encoding": {
        "x": {"field": "t", "type": "temporal", "scale": {"type": "utc"}},
        "y": {"field": "p", "type": "quantitative", "scale": {"domain": [-5.45, 1180.5], "nice": false, "zero": false}, "axis": null},
        "text": {"field": "label"}
      }
    },
    {
      "data": {"name": "notes"},
      "transform": [{"filter": "datum.kind === 'bsv'"}],
      "mark": {"type": "text", "fontSize": 19, "fontWeight": "bold", "color": "#000000", "align": "right", "baseline": "middle"},
      "encoding": {
        "x": {"field": "t", "type": "temporal", "scale": {"type": "utc"}},
        "y": {"field": "p", "type": "quantitative", "scale": {"domain": [-5.45, 1180.5], "nice": false, "zero": false}, "axis": null},
        "text": {"field": "label"}
      }
    },
    {
      "data": {"name": "tags"},
      "transform": [{"filter": "datum.kind === 'last'"}],
      "mark": {"type": "point", "shape": "M0,-0.35 L2,-0.35 L2,0.35 L0,0.35 Z", "filled": true, "size": 9409, "opacity": 1, "color": "#000000"},
      "encoding": {
        "x": {"datum": {"year": 2021, "month": 2, "date": 26, "hours": 12, "minutes": 30, "utc": true}, "type": "temporal", "scale": {"type": "utc"}},
        "y": {"field": "p", "type": "quantitative", "scale": {"domain": [-5.45, 1180.5], "nice": false, "zero": false}, "axis": null}
      }
    },
    {
      "data": {"name": "tags"},
      "transform": [{"filter": "datum.kind === 'bsv'"}],
      "mark": {"type": "point", "shape": "M0,-0.35 L2,-0.35 L2,0.35 L0,0.35 Z", "filled": true, "size": 9409, "opacity": 1, "color": "#ff1a1a"},
      "encoding": {
        "x": {"datum": {"year": 2021, "month": 2, "date": 26, "hours": 12, "minutes": 30, "utc": true}, "type": "temporal", "scale": {"type": "utc"}},
        "y": {"field": "p", "type": "quantitative", "scale": {"domain": [-5.45, 1180.5], "nice": false, "zero": false}, "axis": null}
      }
    },
    {
      "data": {"name": "tags"},
      "mark": {"type": "text", "fontSize": 21, "color": "#ffffff", "align": "left", "baseline": "middle", "dx": 14},
      "encoding": {
        "x": {"datum": {"year": 2021, "month": 2, "date": 26, "hours": 12, "minutes": 30, "utc": true}, "type": "temporal", "scale": {"type": "utc"}},
        "y": {"field": "p", "type": "quantitative", "scale": {"domain": [-5.45, 1180.5], "nice": false, "zero": false}, "axis": null},
        "text": {"field": "label"}
      }
    },
    {
      "data": {"values": [{}]},
      "mark": {"type": "rule", "color": "#434651", "strokeWidth": 3},
      "encoding": {
        "x": {"datum": {"year": 2020, "month": 12, "date": 25, "hours": 7, "minutes": 15, "utc": true}, "type": "temporal", "scale": {"type": "utc"}},
        "x2": {"datum": {"year": 2021, "month": 2, "date": 28, "hours": 6, "minutes": 15, "utc": true}},
        "y": {"datum": 1180.5, "type": "quantitative", "scale": {"domain": [-5.45, 1180.5], "nice": false, "zero": false}, "axis": null}
      }
    },
    {
      "data": {"values": [{}]},
      "mark": {"type": "rule", "color": "#434651", "strokeWidth": 3},
      "encoding": {
        "x": {"datum": {"year": 2020, "month": 12, "date": 25, "hours": 7, "minutes": 15, "utc": true}, "type": "temporal", "scale": {"type": "utc"}},
        "x2": {"datum": {"year": 2021, "month": 2, "date": 28, "hours": 6, "minutes": 15, "utc": true}},
        "y": {"datum": -5.45, "type": "quantitative", "scale": {"domain": [-5.45, 1180.5], "nice": false, "zero": false}, "axis": null}
      }
    },
    {
      "data": {"values": [{}]},
      "mark": {"type": "rule", "color": "#434651", "strokeWidth": 2.5},
      "encoding": {
        "x": {"datum": {"year": 2020, "month": 12, "date": 25, "hours": 7, "minutes": 15, "utc": true}, "type": "temporal", "scale": {"type": "utc"}},
        "x2": {"datum": {"year": 2021, "month": 2, "date": 28, "hours": 6, "minutes": 15, "utc": true}},
        "y": {"datum": -36.9, "type": "quantitative", "scale": {"domain": [-5.45, 1180.5], "nice": false, "zero": false}, "axis": null}
      }
    },
    {
      "data": {"values": [{}]},
      "mark": {"type": "rule", "color": "#434651", "strokeWidth": 2},
      "encoding": {
        "x": {"datum": {"year": 2020, "month": 12, "date": 25, "hours": 7, "minutes": 15, "utc": true}, "type": "temporal", "scale": {"type": "utc"}},
        "y": {"datum": 1180.5, "type": "quantitative", "scale": {"domain": [-5.45, 1180.5], "nice": false, "zero": false}, "axis": null},
        "y2": {"datum": -36.9}
      }
    },
    {
      "data": {"values": [{}]},
      "mark": {"type": "rule", "color": "#434651", "strokeWidth": 2},
      "encoding": {
        "x": {"datum": {"year": 2021, "month": 2, "date": 28, "hours": 6, "minutes": 15, "utc": true}, "type": "temporal", "scale": {"type": "utc"}},
        "y": {"datum": 1180.5, "type": "quantitative", "scale": {"domain": [-5.45, 1180.5], "nice": false, "zero": false}, "axis": null},
        "y2": {"datum": -36.9}
      }
    },
    {
      "data": {"values": [{}]},
      "mark": {"type": "rule", "color": "#434651", "strokeWidth": 2},
      "encoding": {
        "x": {"datum": {"year": 2020, "month": 12, "date": 27, "hours": 5, "minutes": 10, "utc": true}, "type": "temporal", "scale": {"type": "utc"}},
        "y": {"datum": -5.45, "type": "quantitative", "scale": {"domain": [-5.45, 1180.5], "nice": false, "zero": false}, "axis": null},
        "y2": {"datum": -36.9}
      }
    },
    {
      "data": {"values": [{}]},
      "mark": {"type": "rule", "color": "#434651", "strokeWidth": 2},
      "encoding": {
        "x": {"datum": {"year": 2021, "month": 2, "date": 26, "hours": 12, "minutes": 30, "utc": true}, "type": "temporal", "scale": {"type": "utc"}},
        "y": {"datum": -5.45, "type": "quantitative", "scale": {"domain": [-5.45, 1180.5], "nice": false, "zero": false}, "axis": null},
        "y2": {"datum": -36.9}
      }
    },
    {
      "data": {"name": "buttons"},
      "transform": [{"filter": "datum.side === 'left'"}],
      "layer": [
        {"mark": {"type": "point", "shape": "circle", "filled": true, "size": 1250, "color": "#eceef2", "opacity": 1}},
        {"mark": {"type": "text", "fontSize": 19, "color": "#50535e", "align": "center", "baseline": "middle"}, "encoding": {"text": {"field": "label"}}}
      ],
      "encoding": {
        "x": {"datum": {"year": 2020, "month": 12, "date": 26, "hours": 6, "minutes": 11, "utc": true}, "type": "temporal", "scale": {"type": "utc"}},
        "y": {"datum": -22.4, "type": "quantitative", "scale": {"domain": [-5.45, 1180.5], "nice": false, "zero": false}, "axis": null}
      }
    },
    {
      "data": {"name": "buttons"},
      "transform": [{"filter": "datum.side === 'right'"}],
      "layer": [
        {"mark": {"type": "point", "shape": "circle", "filled": true, "size": 1250, "color": "#eceef2", "opacity": 1}},
        {"mark": {"type": "text", "fontSize": 19, "color": "#50535e", "align": "center", "baseline": "middle"}, "encoding": {"text": {"field": "label"}}}
      ],
      "encoding": {
        "x": {"datum": {"year": 2021, "month": 2, "date": 27, "hours": 9, "minutes": 36, "utc": true}, "type": "temporal", "scale": {"type": "utc"}},
        "y": {"datum": -22.4, "type": "quantitative", "scale": {"domain": [-5.45, 1180.5], "nice": false, "zero": false}, "axis": null}
      }
    },
    {
      "data": {"values": [{}]},
      "mark": {
        "type": "point",
        "shape": "M-1,0.55 C-1.25,0.5 -1.2,-0.05 -0.8,-0.05 C-0.75,-0.55 -0.2,-0.6 0,-0.3 C0.25,-0.85 1.05,-0.7 0.9,-0.05 C1.25,0.05 1.2,0.55 0.9,0.55 Z",
        "filled": true,
        "size": 2304,
        "color": "#2196f3",
        "opacity": 1
      },
      "encoding": {
        "x": {"datum": {"year": 2020, "month": 12, "date": 25, "hours": 16, "minutes": 2, "utc": true}, "type": "temporal", "scale": {"type": "utc"}},
        "y": {"datum": -57.5, "type": "quantitative", "scale": {"domain": [-5.45, 1180.5], "nice": false, "zero": false}, "axis": null}
      }
    }
  ],
  "resolve": {"scale": {"y": "independent"}, "axis": {"y": "independent"}},
  "config": {
    "view": {"stroke": "#434651", "strokeWidth": 2},
    "axis": {"labelFont": "Roboto", "titleFont": "Roboto"},
    "text": {"font": "Roboto"}
  }
}
